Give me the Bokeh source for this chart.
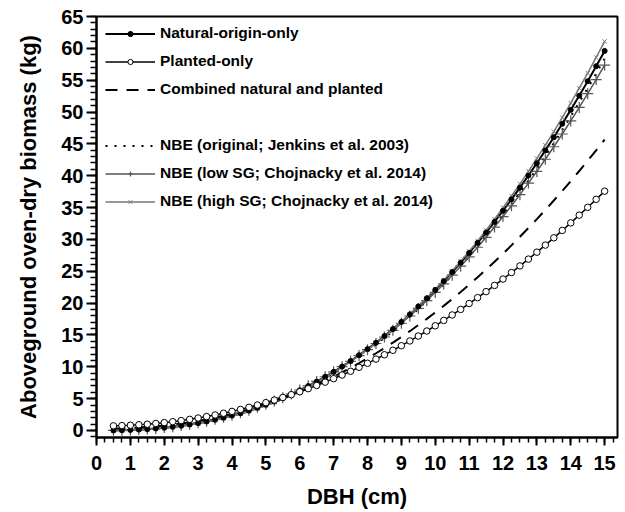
from bokeh.plotting import figure
from bokeh.models import Legend, LegendItem, FixedTicker, Range1d
from bokeh.embed import file_html
from bokeh.resources import INLINE

# ---- data ----
dbh = [0.5, 0.75, 1.0, 1.25, 1.5, 1.75, 2.0, 2.25, 2.5, 2.75, 3.0, 3.25, 3.5, 3.75,
       4.0, 4.25, 4.5, 4.75, 5.0, 5.25, 5.5, 5.75, 6.0, 6.25, 6.5, 6.75, 7.0, 7.25,
       7.5, 7.75, 8.0, 8.25, 8.5, 8.75, 9.0, 9.25, 9.5, 9.75, 10.0, 10.25, 10.5,
       10.75, 11.0, 11.25, 11.5, 11.75, 12.0, 12.25, 12.5, 12.75, 13.0, 13.25, 13.5,
       13.75, 14.0, 14.25, 14.5, 14.75, 15.0]

natural = [0.01, 0.04, 0.08, 0.14, 0.21, 0.31, 0.43, 0.57, 0.74, 0.93, 1.16, 1.41, 1.69,
           2.00, 2.34, 2.71, 3.12, 3.56, 4.04, 4.55, 5.10, 5.69, 6.32, 6.98, 7.68, 8.43,
           9.21, 10.04, 10.91, 11.82, 12.78, 13.78, 14.82, 15.92, 17.05, 18.23, 19.47,
           20.75, 22.07, 23.45, 24.88, 26.35, 27.88, 29.46, 31.08, 32.77, 34.50, 36.29,
           38.13, 40.03, 41.97, 43.98, 46.04, 48.16, 50.34, 52.57, 54.84, 57.19, 59.60]

planted = [0.73, 0.77, 0.83, 0.90, 0.99, 1.10, 1.24, 1.39, 1.56, 1.75, 1.96, 2.19, 2.44,
           2.71, 3.00, 3.31, 3.64, 4.00, 4.37, 4.77, 5.19, 5.62, 6.09, 6.57, 7.07, 7.59,
           8.14, 8.71, 9.30, 9.92, 10.55, 11.21, 11.89, 12.59, 13.31, 14.06, 14.83, 15.62,
           16.44, 17.28, 18.14, 19.01, 19.93, 20.86, 21.80, 22.78, 23.78, 24.80, 25.84,
           26.91, 28.00, 29.11, 30.25, 31.41, 32.60, 33.81, 35.04, 36.29, 37.58]

combined = [0.32, 0.35, 0.40, 0.47, 0.56, 0.66, 0.79, 0.94, 1.11, 1.30, 1.51, 1.75, 2.02,
            2.31, 2.62, 2.96, 3.32, 3.71, 4.13, 4.58, 5.05, 5.55, 6.08, 6.63, 7.22, 7.83,
            8.47, 9.14, 9.84, 10.57, 11.33, 12.13, 12.95, 13.80, 14.68, 15.59, 16.55,
            17.52, 18.53, 19.57, 20.65, 21.75, 22.89, 24.06, 25.26, 26.50, 27.77, 29.07,
            30.41, 31.79, 33.19, 34.64, 36.11, 37.61, 39.16, 40.74, 42.34, 43.99, 45.68]

nbe_original = [0.01, 0.04, 0.08, 0.13, 0.21, 0.30, 0.42, 0.56, 0.72, 0.91, 1.13, 1.38,
                1.65, 1.96, 2.29, 2.66, 3.06, 3.49, 3.96, 4.46, 5.00, 5.58, 6.19, 6.84,
                7.53, 8.26, 9.03, 9.84, 10.69, 11.58, 12.52, 13.50, 14.52, 15.60, 16.71,
                17.87, 19.08, 20.34, 21.63, 22.98, 24.38, 25.82, 27.32, 28.87, 30.46,
                32.11, 33.81, 35.56, 37.37, 39.23, 41.13, 43.10, 45.12, 47.20, 49.33,
                51.52, 53.74, 56.05, 58.41]

nbe_low_sg = [0.02, 0.04, 0.09, 0.15, 0.23, 0.33, 0.46, 0.60, 0.78, 0.98, 1.21, 1.46,
              1.75, 2.06, 2.40, 2.78, 3.19, 3.63, 4.11, 4.62, 5.16, 5.74, 6.36, 7.02,
              7.71, 8.44, 9.21, 10.02, 10.87, 11.76, 12.69, 13.66, 14.68, 15.73, 16.84,
              17.98, 19.17, 20.40, 21.68, 23.01, 24.38, 25.80, 27.26, 28.77, 30.33,
              31.94, 33.59, 35.28, 37.03, 38.84, 40.68, 42.59, 44.55, 46.55, 48.61,
              50.73, 52.88, 55.09, 57.37]

nbe_high_sg = [0.01, 0.03, 0.07, 0.12, 0.19, 0.28, 0.40, 0.53, 0.69, 0.88, 1.09, 1.34,
               1.61, 1.91, 2.24, 2.61, 3.01, 3.45, 3.92, 4.43, 4.97, 5.56, 6.18, 6.85,
               7.55, 8.30, 9.09, 9.92, 10.80, 11.72, 12.69, 13.71, 14.77, 15.88, 17.03,
               18.24, 19.50, 20.81, 22.17, 23.58, 25.04, 26.56, 28.13, 29.76, 31.44,
               33.18, 34.97, 36.82, 38.72, 40.69, 42.71, 44.80, 46.94, 49.14, 51.41,
               53.74, 56.12, 58.57, 61.09]

x_ticks = list(range(0, 16))
y_ticks = list(range(0, 70, 5))
x_minor = [i * 0.25 for i in range(0, 62)]
y_minor = list(range(-1, 66))

labels = ["Natural-origin-only", "Planted-only", "Combined natural and planted",
          "NBE (original; Jenkins et al. 2003)", "NBE (low SG; Chojnacky et al. 2014)",
          "NBE (high SG; Chojnacky et al. 2014)"]

FONT = "Liberation Sans"

p = figure(width=625, height=512, x_range=Range1d(0, 15.38), y_range=Range1d(-1.1, 65),
           output_backend="svg", toolbar_location=None,
           min_border_left=96, min_border_right=8, min_border_top=16, min_border_bottom=75)
p.background_fill_color = "white"
p.border_fill_color = "white"
p.outline_line_color = "black"
p.outline_line_width = 2
p.xgrid.visible = False
p.ygrid.visible = False

# ---- series ----
r_orig = p.line(dbh, nbe_original, line_color="black", line_width=2, line_dash="2 7")

r_nat_l = p.line(dbh, natural, line_color="black", line_width=2)

r_low_l = p.line(dbh, nbe_low_sg, line_color="#555555", line_width=1.5)
r_low_m = p.scatter(dbh, nbe_low_sg, marker="cross", size=11, line_color="#555555", line_width=1.2)

r_high_l = p.line(dbh, nbe_high_sg, line_color="#777777", line_width=1.5)
r_high_m = p.scatter(dbh, nbe_high_sg, marker="x", size=6, line_color="#777777", line_width=1)

r_nat_m = p.scatter(dbh, natural, marker="circle", size=5, fill_color="black", line_color="black")

r_comb = p.line(dbh, combined, line_color="black", line_width=2, line_dash="12 9")

r_pl_l = p.line(dbh, planted, line_color="black", line_width=1.5)
r_pl_m = p.scatter(dbh, planted, marker="circle", size=6.5, fill_color="white",
                   line_color="black", line_width=1)

# ---- axes ----
for ax in (p.xaxis[0], p.yaxis[0]):
    ax.axis_line_color = "black"
    ax.axis_line_width = 2
    ax.major_tick_line_width = 2
    ax.minor_tick_line_width = 1.5
    ax.major_tick_in = 0
    ax.minor_tick_in = 0
    ax.major_label_text_font = FONT
    ax.major_label_text_font_style = "bold"
    ax.major_label_text_font_size = "20px"
    ax.major_label_text_color = "black"
    ax.axis_label_text_font = FONT
    ax.axis_label_text_font_style = "bold"
    ax.axis_label_text_font_size = "22px"
    ax.axis_label_text_color = "black"

p.xaxis.major_tick_out = 8
p.xaxis.minor_tick_out = 5
p.yaxis.major_tick_out = 10
p.yaxis.minor_tick_out = 6

p.xaxis.ticker = FixedTicker(ticks=x_ticks, minor_ticks=x_minor)
p.yaxis.ticker = FixedTicker(ticks=y_ticks, minor_ticks=y_minor)
p.xaxis.axis_label = "DBH (cm)"
p.yaxis.axis_label = "Aboveground oven-dry biomass (kg)"
p.xaxis.major_label_standoff = 10
p.yaxis.major_label_standoff = 3
p.xaxis.axis_label_standoff = 11
p.yaxis.axis_label_standoff = 17

# ---- legends ----
def make_legend(items, loc):
    lg = Legend(items=items, location=loc, orientation="vertical")
    lg.label_text_font = FONT
    lg.label_text_font_style = "bold"
    lg.label_text_font_size = "15.5px"
    lg.label_text_color = "black"
    lg.glyph_width = 50
    lg.glyph_height = 13
    lg.label_height = 20
    lg.spacing = 8
    lg.padding = 0
    lg.margin = 0
    lg.label_standoff = 5
    lg.border_line_alpha = 0
    lg.background_fill_alpha = 0
    return lg

leg1 = make_legend([
    LegendItem(label=labels[0], renderers=[r_nat_l, r_nat_m]),
    LegendItem(label=labels[1], renderers=[r_pl_l, r_pl_m]),
    LegendItem(label=labels[2], renderers=[r_comb]),
], (9, 338))
leg2 = make_legend([
    LegendItem(label=labels[3], renderers=[r_orig]),
    LegendItem(label=labels[4], renderers=[r_low_l, r_low_m]),
    LegendItem(label=labels[5], renderers=[r_high_l, r_high_m]),
], (9, 226))
p.add_layout(leg1)
p.add_layout(leg2)

open("out.html", "w").write(file_html(p, INLINE))
